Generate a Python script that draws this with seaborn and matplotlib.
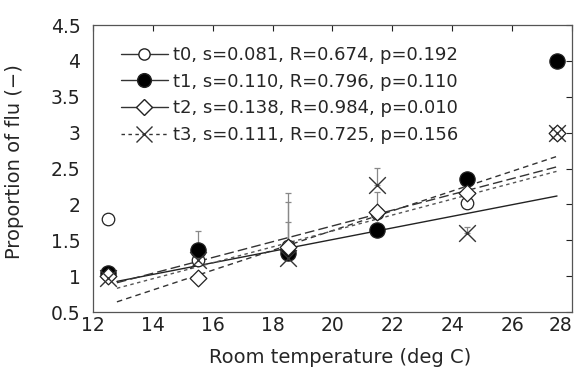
import numpy as np
import pandas as pd
import matplotlib
matplotlib.use("Agg")
import matplotlib.pyplot as plt
from matplotlib.lines import Line2D
import seaborn as sns

# Room temperature class centres (deg C)
temps = [12.5, 15.5, 18.5, 21.5, 24.5, 27.5]

# Proportion of flu in each temperature class, per period
t0 = [1.80, 1.22, 1.42, 1.88, 2.02, 3.00]
t1 = [1.04, 1.36, 1.32, 1.65, 2.36, 4.00]
t2 = [1.00, 0.98, 1.41, 1.90, 2.16, 3.00]
t3 = [0.98, 1.23, 1.25, 2.27, 1.60, 3.00]

# Upper error-bar extents
err_t0 = [0.00, 0.00, 0.00, 0.00, 0.00, 0.00]
err_t1 = [0.00, 0.27, 0.71, 0.00, 0.00, 0.00]
err_t2 = [0.00, 0.00, 0.75, 0.28, 0.00, 0.00]
err_t3 = [0.00, 0.00, 0.50, 0.24, 0.09, 0.00]

# Linear fits: slope and intercept, with the fitted range
slopes = [0.081, 0.110, 0.138, 0.111]
intercepts = [-0.11, -0.50, -1.125, -0.59]
fit_range = [12.8, 27.5]

labels = ["t0, s=0.081, R=0.674, p=0.192",
          "t1, s=0.110, R=0.796, p=0.110",
          "t2, s=0.138, R=0.984, p=0.010",
          "t3, s=0.111, R=0.725, p=0.156"]

xtick_vals = [12, 14, 16, 18, 20, 22, 24, 26, 28]
ytick_vals = [0.5, 1, 1.5, 2, 2.5, 3, 3.5, 4, 4.5]
ytick_labels = ["0.5", "1", "1.5", "2", "2.5", "3", "3.5", "4", "4.5"]

series = [t0, t1, t2, t3]
errors = [err_t0, err_t1, err_t2, err_t3]

sns.set_style("white")
plt.rcParams["font.family"] = ["DejaVu Sans"]

fig = plt.figure(figsize=(5.81, 3.75), dpi=100)
ax = fig.add_axes([0.160, 0.168, 0.8245, 0.765])

markers = ["o", "o", "D", "x"]
mfc = ["white", "black", "white", "none"]
msizes = [9, 11, 8.5, 12]
dashes = ["-", (0, (7, 3)), (0, (4, 3)), (0, (2.5, 2.5))]
line_colors = ["#222222", "#333333", "#333333", "#555555"]

# error bars first so markers sit on top
for i, (ys, es) in enumerate(zip(series, errors)):
    e = np.array(es)
    lower = np.zeros_like(e)
    mask = e > 0
    if mask.any():
        ax.errorbar(np.array(temps)[mask], np.array(ys)[mask],
                    yerr=[lower[mask], e[mask]], fmt="none",
                    ecolor="#888888", elinewidth=0.9, capsize=2.5,
                    capthick=0.9, zorder=2)

# fitted lines
xs = np.linspace(fit_range[0], fit_range[1], 20)
for i in range(4):
    fit_df = pd.DataFrame({"x": xs, "y": intercepts[i] + slopes[i] * xs})
    sns.lineplot(data=fit_df, x="x", y="y", ax=ax, color=line_colors[i],
                 linewidth=1.0, zorder=3, legend=False)
    ax.lines[-1].set_linestyle(dashes[i])

# data points
for i, ys in enumerate(series):
    df = pd.DataFrame({"x": temps, "y": ys})
    if markers[i] == "x":
        sns.scatterplot(data=df, x="x", y="y", ax=ax, marker="x",
                        s=msizes[i] ** 2, color="#333333", linewidth=1.0,
                        zorder=4, legend=False)
    else:
        sns.scatterplot(data=df, x="x", y="y", ax=ax, marker=markers[i],
                        s=msizes[i] ** 2, facecolor=mfc[i],
                        edgecolor="#222222", linewidth=0.9, zorder=4,
                        legend=False)

ax.set_xlim(12, 28)
ax.set_ylim(0.5, 4.5)
ax.set_xticks(xtick_vals)
ax.set_xticklabels([str(v) for v in xtick_vals])
ax.set_yticks(ytick_vals)
ax.set_yticklabels(ytick_labels)
ax.tick_params(direction="in", length=4, width=0.8, labelsize=13.5,
               top=True, right=True, colors="#222222")
ax.tick_params(axis="x", pad=3)
ax.tick_params(axis="y", pad=9)
# keep the last x label inside the figure
ax.get_xticklabels()[-1].set_ha("right")
ax.get_xticklabels()[-1].set_x(28)
for sp in ax.spines.values():
    sp.set_color("#555555")
    sp.set_linewidth(0.9)

ax.set_xlabel("Room temperature (deg C)", fontsize=14, va="center")
ax.set_ylabel("Proportion of flu (\u2212)", fontsize=14, va="center")
ax.xaxis.set_label_coords(0.515, -0.157)
ax.yaxis.set_label_coords(-0.163, 0.526)

handles = []
for i in range(4):
    if markers[i] == "x":
        h = Line2D([0], [0], color="#333333", linewidth=1.0,
                   linestyle=dashes[i], marker="x", markersize=msizes[i],
                   markeredgecolor="#333333")
    else:
        h = Line2D([0], [0], color="#333333", linewidth=1.0,
                   linestyle="-", marker=markers[i],
                   markersize=msizes[i] * 0.9, markerfacecolor=mfc[i],
                   markeredgecolor="#222222")
    handles.append(h)
leg = ax.legend(handles, labels, loc="upper left",
                bbox_to_anchor=(0.035, 0.965), frameon=False, fontsize=13,
                handlelength=2.6, handletextpad=0.3, labelspacing=0.48,
                borderaxespad=0.2)

fig.savefig("out.png", dpi=100)
